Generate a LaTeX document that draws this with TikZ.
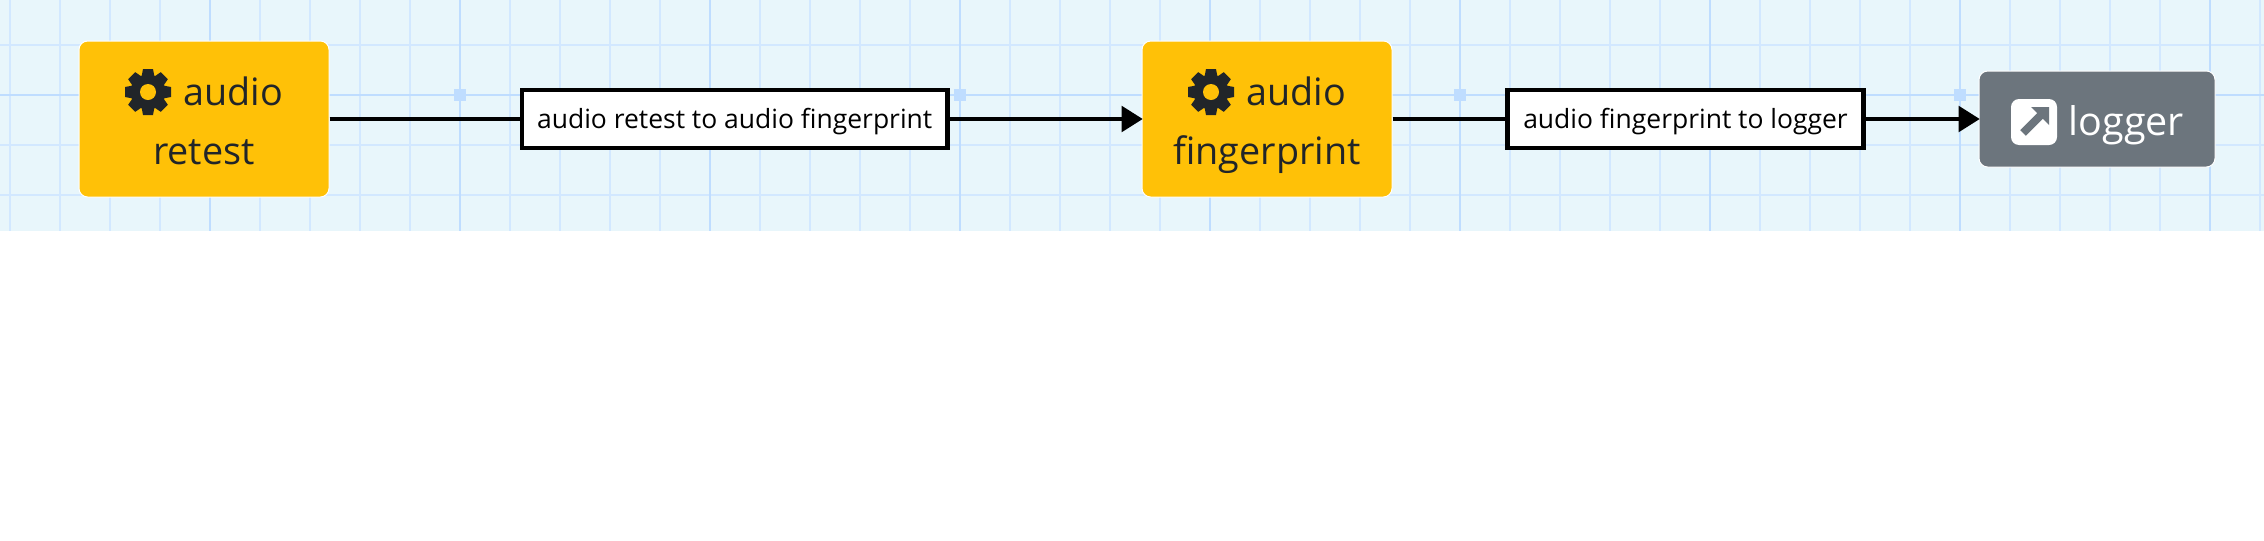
\documentclass[tikz,border=0pt]{standalone}
\usepackage{fontspec}
\setmainfont{Open Sans}
\usetikzlibrary{arrows.meta}

\definecolor{canvasbg}{HTML}{E8F6FB}
\definecolor{gridminor}{HTML}{D2E8FF}
\definecolor{gridmajor}{HTML}{BFDDFF}
\definecolor{amberbox}{HTML}{FFC107}
\definecolor{inkdark}{HTML}{212529}
\definecolor{greybox}{HTML}{6C757D}

\tikzset{every picture/.style={line width=0.75pt}}
\tikzset{
	stagebox/.style={fill=amberbox,draw=white,line width=0.75pt,rounded corners=6.5pt,minimum width=187.5pt,minimum height=117pt,inner sep=0pt,align=center,text=inkdark,text height=67.5pt,text depth=0pt,font=\fontsize{28.3}{44.25}\selectfont},
	sinkbox/.style={fill=greybox,draw=white,line width=0.75pt,rounded corners=6.5pt,minimum width=177pt,minimum height=72pt,inner sep=0pt,text=white,text height=24pt,text depth=0pt,font=\fontsize{29.6}{30}\selectfont},
	edgelabel/.style={fill=white,draw=black,line width=3.6pt,minimum height=43.5pt,inner sep=0pt,text height=13.5pt,text depth=0pt,font=\fontsize{19.85}{22}\selectfont},
	flowline/.style={draw=black,line width=3.6pt},
	flowarrow/.style={flowline,shorten >=-1pt,-{Triangle[length=16pt,width=19pt]}},
	handle/.style={fill=gridmajor,draw=none},
	gear/.pic={
		\fill[inkdark] (0,0) circle (17.5);
		\foreach \a in {0,45,...,315}
			\fill[inkdark,rotate=\a] (-6.5,-15) -- (-5,-23) -- (5,-23) -- (6.5,-15) -- cycle;
		\fill[amberbox] (0,0) circle (8);
	}
}

\begin{document}
\begin{tikzpicture}[x=0.75pt,y=0.75pt,yscale=-1,xscale=1]
	\useasboundingbox (0,0) rectangle (2264,540);

	%Canvas
	\fill[canvasbg] (0,0) rectangle (2264,231);
	\foreach \x in {10,60,...,2260}
		\draw[gridminor,line width=1.5pt] (\x,0) -- (\x,231);
	\foreach \y in {45,95,145,195}
		\draw[gridminor,line width=1.5pt] (0,\y) -- (2264,\y);
	\foreach \x in {210,460,...,2210}
		\draw[gridmajor,line width=1.5pt] (\x,0) -- (\x,231);
	\draw[gridmajor,line width=1.5pt] (0,95) -- (2264,95);

	%Handles
	\foreach \x in {460,960,1460,1960}
		\fill[handle] (\x-6,89) rectangle (\x+6,101);

	% Text Node
	\node[stagebox] (retest) at (204,119) {\hspace*{44pt}audio\\retest};
	% Text Node
	\node[stagebox] (fingerprint) at (1267,119) {\hspace*{44pt}audio\\fingerprint};
	% Text Node
	\node[sinkbox] (logger) at (2097,119) {\hspace*{44pt}logger};
	% Text Node
	\node[edgelabel,minimum width=319pt] (retestlabel) at (734.7,119) {audio retest to audio fingerprint};
	% Text Node
	\node[edgelabel,minimum width=267pt] (loggerlabel) at (1685.5,119) {audio fingerprint to logger};

	%Straight Lines
	\draw[flowline] (retest) -- (retestlabel);
	\draw[flowarrow] (retestlabel) -- (fingerprint);
	\draw[flowline] (fingerprint) -- (loggerlabel);
	\draw[flowarrow] (loggerlabel) -- (logger);

	%Icons
	\pic at (148,92) {gear};
	\pic at (1211,92) {gear};
	\fill[white,rounded corners=6pt] (2011,99) rectangle (2057,145);
	\draw[greybox,line width=6pt] (2023,133) -- (2042,114);
	\fill[greybox] (2031,107) -- (2049,107) -- (2049,125) -- cycle;
\end{tikzpicture}
\end{document}
